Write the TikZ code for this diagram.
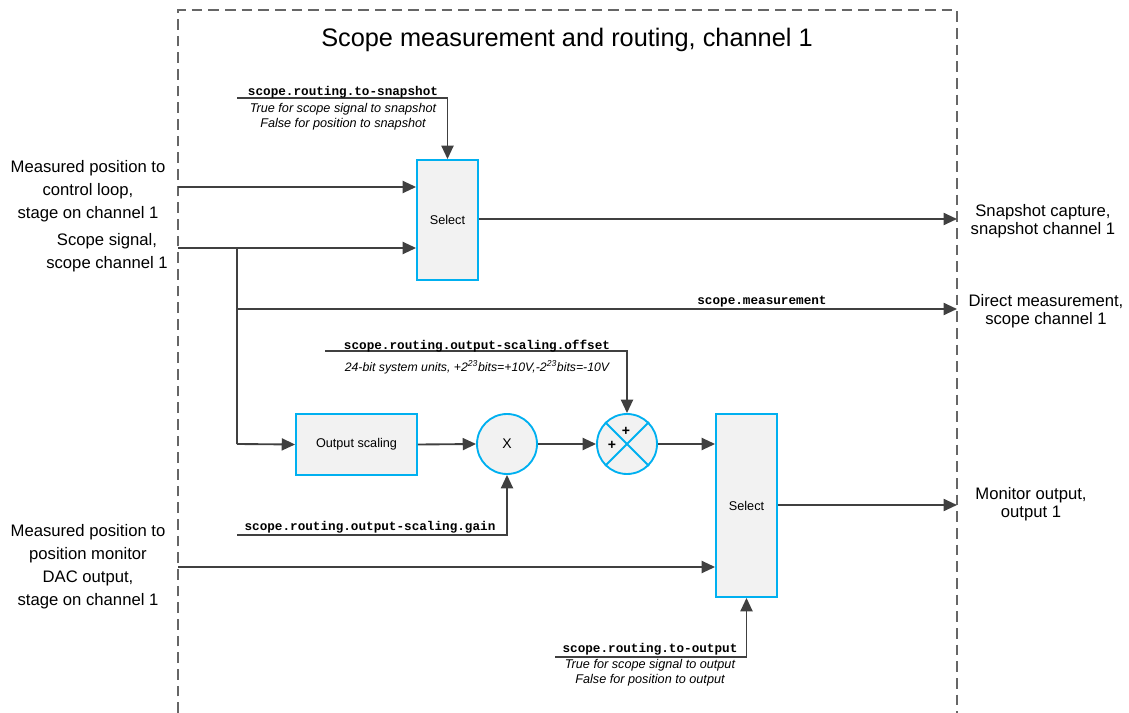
\documentclass[tikz,border=0pt]{standalone}
\usepackage{fontspec}
\setmainfont{Liberation Sans}
\setmonofont{Liberation Mono}
\usetikzlibrary{arrows.meta}
\definecolor{wire}{HTML}{404040}
\definecolor{boxblue}{HTML}{00B0F0}
\definecolor{boxfill}{HTML}{F2F2F2}
\tikzset{
  wirel/.style={draw=wire,line width=1.4pt},
  arr/.style={wirel,-{Triangle[length=10pt,width=9pt]}},
  blockbox/.style={draw=boxblue,fill=boxfill,line width=1.4pt,inner sep=0pt,font=\fontsize{9.5}{11}\selectfont},
  opcircle/.style={circle,draw=boxblue,fill=boxfill,line width=1.4pt,minimum size=45pt,inner sep=0pt},
  sidelabel/.style={align=center,font=\fontsize{12.5}{17.25}\selectfont,inner sep=0pt},
  outlabel/.style={align=center,font=\fontsize{12.5}{13.5}\selectfont,inner sep=0pt},
  monolabel/.style={font=\fontsize{9.5}{11}\ttfamily\bfseries,inner sep=0pt},
  notelabel/.style={align=center,font=\fontsize{9.5}{11.3}\itshape,inner sep=0pt},
}
\begin{document}
\begin{tikzpicture}[x=0.75pt,y=-0.75pt]
\useasboundingbox (0,0) rectangle (1129,713);
% frame
\draw[gray!80!black,line width=1pt,dash pattern=on 8pt off 4.5pt] (178,713) -- (178,10) -- (957,10) -- (957,713);
\node[font=\fontsize{19}{22}\selectfont] (title) at (567,40) {Scope measurement and routing, channel 1};

% blocks
\node[blockbox,minimum width=45.75pt,minimum height=90pt] (sel1) at (447.5,220) {Select};
\node[blockbox,minimum width=90.75pt,minimum height=45.75pt] (osc) at (356.5,444.5) {Output scaling};
\node[opcircle] (mul) at (507,444) {\fontsize{10.5}{12}\selectfont X};
\node[opcircle] (sum) at (627,444) {};
\draw[boxblue,line width=1.4pt] (sum.45) -- (sum.225) (sum.135) -- (sum.315);
\node[font=\fontsize{10.5}{12}\selectfont\bfseries,inner sep=0pt] (p1) at (626,431) {+};
\node[font=\fontsize{10.5}{12}\selectfont\bfseries,inner sep=0pt] (p2) at (612,445) {+};
\node[blockbox,minimum width=45.75pt,minimum height=137.25pt] (sel2) at (746.5,505.5) {Select};

% left labels
\node[sidelabel] (inA) at (88,191) {Measured position to\\control loop,\\stage on channel 1};
\node[sidelabel] (inB) at (107,253) {Scope signal,\\scope channel 1};
\node[sidelabel] (inC) at (88,567) {Measured position to\\position monitor\\DAC output,\\stage on channel 1};
% right labels
\node[outlabel] (outA) at (1043,221) {Snapshot capture,\\snapshot channel 1};
\node[outlabel] (outB) at (1046,311.5) {Direct measurement,\\scope channel 1};
\node[outlabel] (outC) at (1031,504) {Monitor output,\\output 1};

% coordinates
\coordinate (a0) at (178,187);
\coordinate (b0) at (178,248);
\coordinate (j1) at (237,248);
\coordinate (j2) at (237,309);
\coordinate (j3) at (237,444);
\coordinate (c0) at (178,567);
\coordinate (eA) at (957,219);
\coordinate (eB) at (957,309);
\coordinate (eC) at (957,505);
\coordinate (ts) at (237,98);
\coordinate (off) at (325,351);
\coordinate (gn) at (237,535);
\coordinate (to) at (555,657);

% wires
\draw[arr] (a0) -- (a0 -| sel1.west);
\draw[arr] (b0) -- (b0 -| sel1.west);
\draw[wirel] (j1) -- (j3);
\draw[arr] (j2) -- (eB);
\draw[arr] (sel1.east |- eA) -- (eA);
\draw[arr] (j3) -- (osc.west);
\draw[arr] (osc.east) -- (mul.west);
\draw[arr] (mul.east) -- (sum.west);
\draw[arr] (sum.east) -- (sum.east -| sel2.west);
\draw[arr] (sel2.east |- eC) -- (eC);
\draw[arr] (c0) -- (c0 -| sel2.west);
\draw[arr] (ts) -- (ts -| sel1.north) -- (sel1.north);
\draw[arr] (off) -- (off -| sum.north) -- (sum.north);
\draw[arr] (gn) -- (gn -| mul.south) -- (mul.south);
\draw[arr] (to) -- (to -| sel2.south) -- (sel2.south);

% labels on control lines
\node[monolabel] (tsl) at (343,92) {scope.routing.to-snapshot};
\node[notelabel] (tsn) at (343,117) {True for scope signal to snapshot\\False for position to snapshot};
\node[monolabel] (offl) at (477,346) {scope.routing.output-scaling.offset};
\node[notelabel,font=\fontsize{9.2}{11}\itshape] (offn) at (477,367) {24-bit system units, +2\textsuperscript{23}bits=+10V,-2\textsuperscript{23}bits=-10V};
\node[monolabel] (gnl) at (370,527) {scope.routing.output-scaling.gain};
\node[monolabel] (tol) at (650,649) {scope.routing.to-output};
\node[notelabel] (ton) at (650,673) {True for scope signal to output\\False for position to output};
\node[monolabel] (mes) at (762,302) {scope.measurement};
\end{tikzpicture}
\end{document}
